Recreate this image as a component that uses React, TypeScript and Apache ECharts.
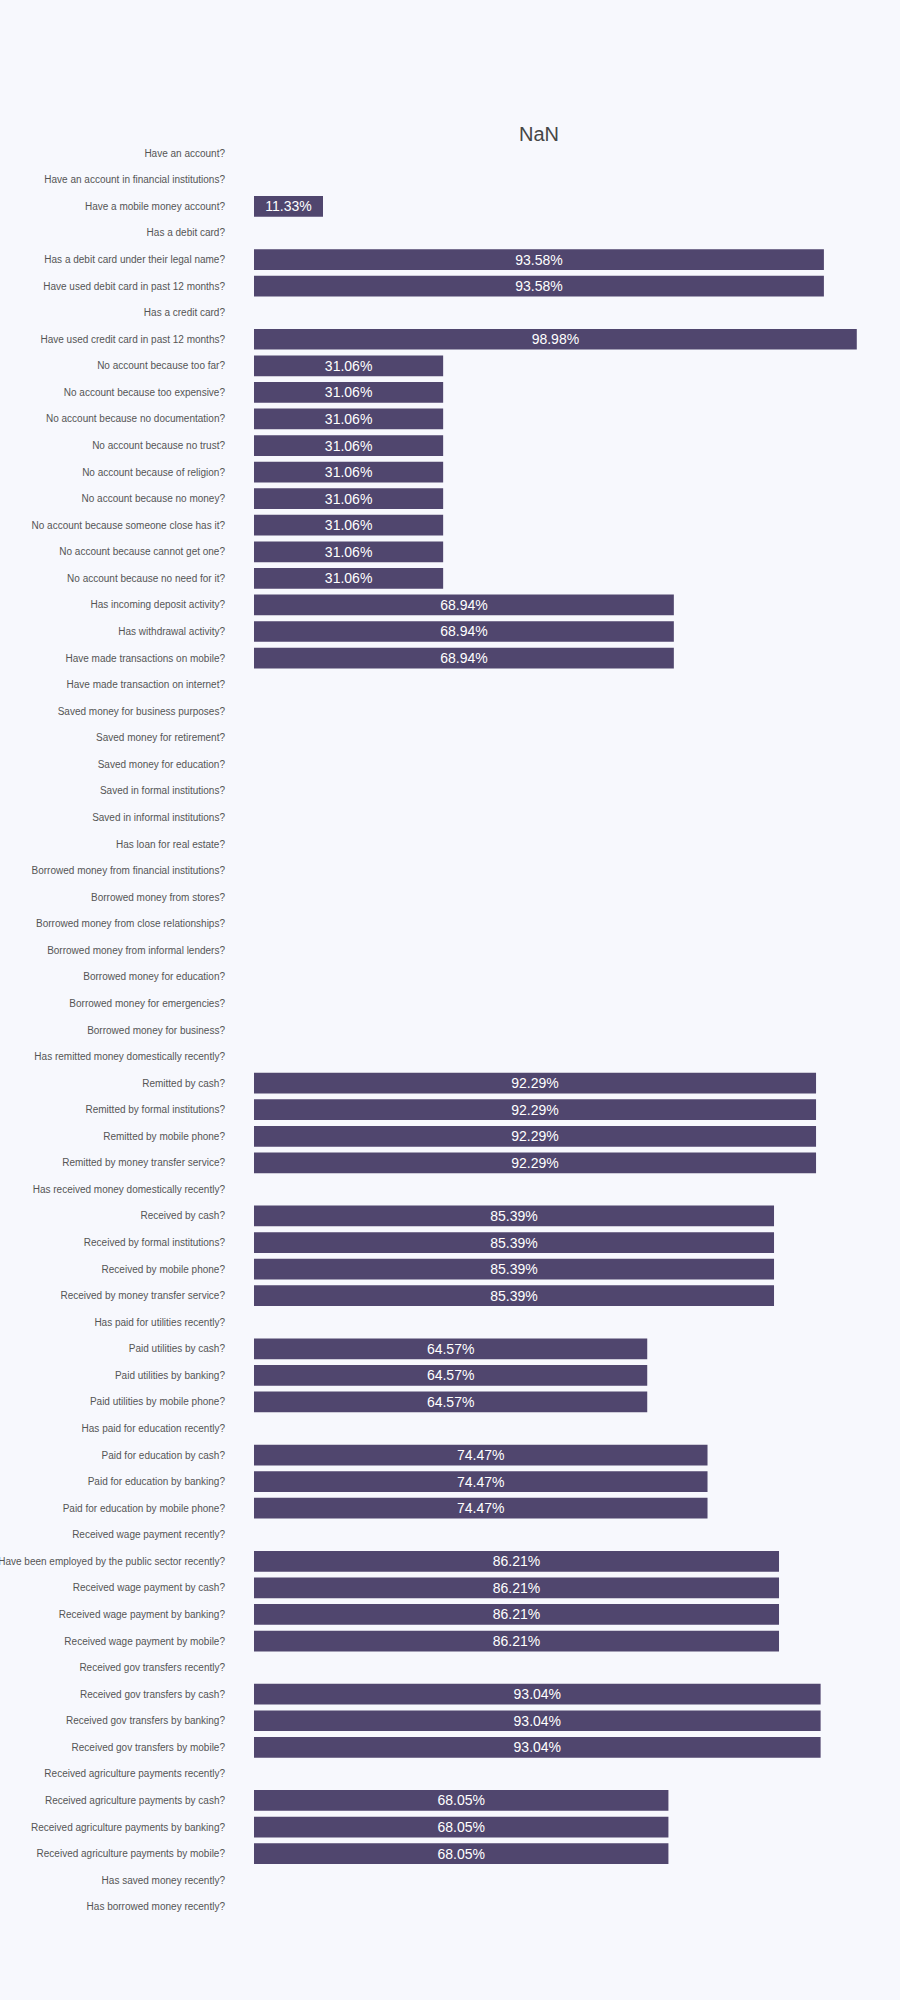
import React, { useEffect, useRef } from "react";
import * as echarts from "echarts";

const categories: string[] = [
  "Have an account?",
  "Have an account in financial institutions?",
  "Have a mobile money account?",
  "Has a debit card?",
  "Has a debit card under their legal name?",
  "Have used debit card in past 12 months?",
  "Has a credit card?",
  "Have used credit card in past 12 months?",
  "No account because too far?",
  "No account because too expensive?",
  "No account because no documentation?",
  "No account because no trust?",
  "No account because of religion?",
  "No account because no money?",
  "No account because someone close has it?",
  "No account because cannot get one?",
  "No account because no need for it?",
  "Has incoming deposit activity?",
  "Has withdrawal activity?",
  "Have made transactions on mobile?",
  "Have made transaction on internet?",
  "Saved money for business purposes?",
  "Saved money for retirement?",
  "Saved money for education?",
  "Saved in formal institutions?",
  "Saved in informal institutions?",
  "Has loan for real estate?",
  "Borrowed money from financial institutions?",
  "Borrowed money from stores?",
  "Borrowed money from close relationships?",
  "Borrowed money from informal lenders?",
  "Borrowed money for education?",
  "Borrowed money for emergencies?",
  "Borrowed money for business?",
  "Has remitted money domestically recently?",
  "Remitted by cash?",
  "Remitted by formal institutions?",
  "Remitted by mobile phone?",
  "Remitted by money transfer service?",
  "Has received money domestically recently?",
  "Received by cash?",
  "Received by formal institutions?",
  "Received by mobile phone?",
  "Received by money transfer service?",
  "Has paid for utilities recently?",
  "Paid utilities by cash?",
  "Paid utilities by banking?",
  "Paid utilities by mobile phone?",
  "Has paid for education recently?",
  "Paid for education by cash?",
  "Paid for education by banking?",
  "Paid for education by mobile phone?",
  "Received wage payment recently?",
  "Have been employed by the public sector recently?",
  "Received wage payment by cash?",
  "Received wage payment by banking?",
  "Received wage payment by mobile?",
  "Received gov transfers recently?",
  "Received gov transfers by cash?",
  "Received gov transfers by banking?",
  "Received gov transfers by mobile?",
  "Received agriculture payments recently?",
  "Received agriculture payments by cash?",
  "Received agriculture payments by banking?",
  "Received agriculture payments by mobile?",
  "Has saved money recently?",
  "Has borrowed money recently?",
];

const values: (number | null)[] = [
  null, null, 11.33, null, 93.58, 93.58, null, 98.98,
  31.06, 31.06, 31.06, 31.06, 31.06, 31.06, 31.06, 31.06, 31.06,
  68.94, 68.94, 68.94,
  null, null, null, null, null, null, null, null, null, null, null, null, null, null,
  null, 92.29, 92.29, 92.29, 92.29,
  null, 85.39, 85.39, 85.39, 85.39,
  null, 64.57, 64.57, 64.57,
  null, 74.47, 74.47, 74.47,
  null, 86.21, 86.21, 86.21, 86.21,
  null, 93.04, 93.04, 93.04,
  null, 68.05, 68.05, 68.05,
  null, null,
];

const titleText = "NaN";

export default function App() {
  const ref = useRef<HTMLDivElement>(null);
  useEffect(() => {
    document.body.style.margin = "0";
    document.body.style.background = "#f7f8fd";
    if (!ref.current) return;
    const chart = echarts.init(ref.current, undefined, { renderer: "svg" });
    chart.setOption({
      animation: false,
      backgroundColor: "#f7f8fd",
      title: {
        text: titleText,
        left: 519,
        top: 124,
        padding: 0,
        textStyle: {
          fontSize: 20,
          fontWeight: "normal",
          color: "#464646",
          fontFamily: "Liberation Sans, Arial, sans-serif",
        },
      },
      grid: {
        left: 254,
        right: 37,
        top: 140,
        bottom: 80,
        containLabel: false,
        outerBoundsMode: "none",
      },
      xAxis: {
        type: "value",
        min: 0,
        max: 100,
        show: false,
      },
      yAxis: {
        type: "category",
        inverse: true,
        data: categories,
        axisLine: { show: false },
        axisTick: { show: false },
        splitLine: { show: false },
        axisLabel: {
          margin: 29,
          fontSize: 10,
          color: "#555",
          fontFamily: "Liberation Sans, Arial, sans-serif",
          interval: 0,
        },
      },
      series: [
        {
          type: "bar",
          data: values,
          barCategoryGap: "22%",
          itemStyle: { color: "#50466e" },
          label: {
            show: true,
            position: "inside",
            color: "#ffffff",
            fontSize: 14,
            fontFamily: "Liberation Sans, Arial, sans-serif",
            formatter: (p: any) => (p.value == null ? "" : p.value.toFixed(2) + "%"),
          },
        },
      ],
    });
    return () => chart.dispose();
  }, []);
  return <div ref={ref} style={{ width: 900, height: 2000 }} />;
}
